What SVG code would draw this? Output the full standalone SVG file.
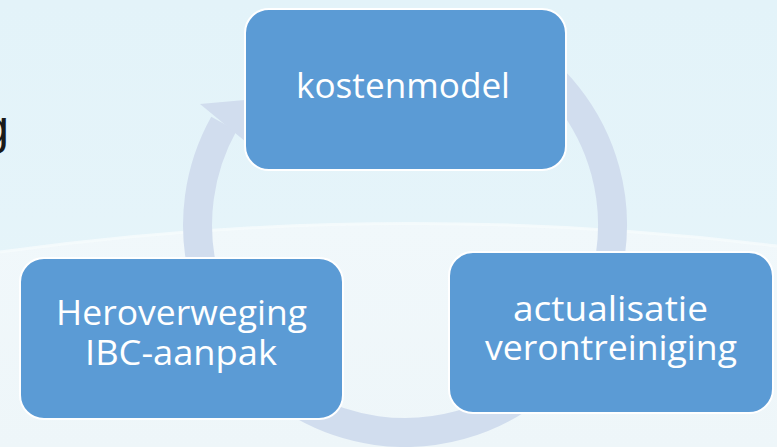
<svg xmlns="http://www.w3.org/2000/svg" width="777" height="447" viewBox="0 0 777 447">
  <defs>
    <linearGradient id="bg" x1="0" y1="0" x2="0" y2="1">
      <stop offset="0" stop-color="#e3f3f9"/>
      <stop offset="1" stop-color="#e7f5fa"/>
    </linearGradient>
    <linearGradient id="low" x1="0" y1="0" x2="0" y2="1">
      <stop offset="0" stop-color="#f1f8fb"/>
      <stop offset="1" stop-color="#eef6f9"/>
    </linearGradient>
  </defs>
  <style>
    .box { fill: #5b9bd5; stroke: #ffffff; stroke-width: 2; }
    .lbl { fill: #ffffff; font-family: "Open Sans", "Noto Sans", sans-serif; font-size: 35px; text-anchor: middle; }
    .ring { fill: none; stroke: #d1ddee; stroke-width: 29; }
  </style>
  <rect x="0" y="0" width="777" height="447" fill="url(#bg)"/>
  <path d="M0,252 Q390,198 777,246 L777,447 L0,447 Z" fill="url(#low)"/>
  <path d="M0,252 Q390,198 777,246" fill="none" stroke="#f6fbfd" stroke-width="3" opacity="0.8"/>
  <text x="9" y="144" font-family="Liberation Sans, Arial, sans-serif" font-size="48" fill="#1a1a1a" text-anchor="end">g</text>
  <g id="connectors">
    <path class="ring" d="M508.75,45.3 A207.5,207.5 0 1 1 223.9,123.8"/>
    <polygon points="200,104 266,98 246,142" fill="#d1ddee"/>
  </g>
  <g id="node-kostenmodel">
    <rect class="box" x="245" y="9" width="321" height="161" rx="24"/>
    <text class="lbl" x="403" y="98" textLength="214" lengthAdjust="spacingAndGlyphs">kostenmodel</text>
  </g>
  <g id="node-actualisatie">
    <rect class="box" x="449" y="252" width="324" height="161" rx="24"/>
    <text class="lbl" x="610.5" y="321" textLength="195" lengthAdjust="spacingAndGlyphs">actualisatie</text>
    <text class="lbl" x="611" y="360" textLength="252" lengthAdjust="spacingAndGlyphs">verontreiniging</text>
  </g>
  <g id="node-heroverweging">
    <rect class="box" x="20" y="258" width="323" height="161" rx="24"/>
    <text class="lbl" x="181.5" y="325" textLength="251" lengthAdjust="spacingAndGlyphs">Heroverweging</text>
    <text class="lbl" x="181" y="365" textLength="192" lengthAdjust="spacingAndGlyphs">IBC-aanpak</text>
  </g>
</svg>
